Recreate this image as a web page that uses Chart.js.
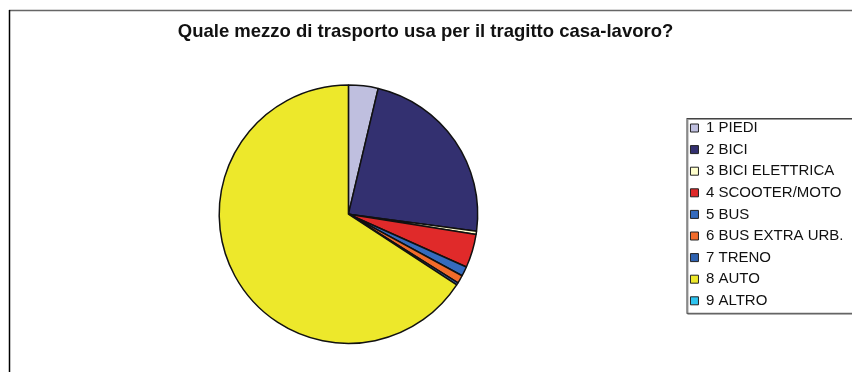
<!DOCTYPE html>
<html>
<head>
<meta charset="utf-8">
<script src="https://cdn.jsdelivr.net/npm/chart.js@4.4.1/dist/chart.umd.min.js"></script>
<style>
  html, body { margin: 0; padding: 0; background: #fff; overflow: hidden; }
  #wrap { position: relative; width: 852px; height: 372px; }
</style>
</head>
<body>
<div id="wrap"><canvas id="chart_mezzo"></canvas></div>
<script>
// percentuali
var categorie = ['1 PIEDI', '2 BICI', '3 BICI ELETTRICA', '4 SCOOTER/MOTO', '5 BUS',
                 '6 BUS EXTRA URB.', '7 TRENO', '8 AUTO', '9 ALTRO'];
var percentuali = [3.7, 23.4, 0.4, 4.2, 1.2, 1.0, 0.3, 65.8, 0];
var colori = ['#bfbfdf', '#333070', '#ffffcc', '#e02a2a', '#356bbe',
              '#f26b2a', '#2f62b0', '#ede82b', '#2ec4f0'];
// spazi finali: il titolo resta centrato sulla larghezza del grafico originale
var titolo = 'Quale mezzo di trasporto usa per il tragitto casa-lavoro?\u00a0\u00a0\u00a0';

// cornice del grafico e riquadro della legenda
var cornice = {
    id: 'cornice',
    beforeDraw: function (chart) {
        var ctx = chart.ctx;
        ctx.save();
        ctx.lineWidth = 1.5;
        ctx.strokeStyle = '#666';
        ctx.beginPath();
        ctx.moveTo(9, 10.5);
        ctx.lineTo(chart.width + 5, 10.5);
        ctx.stroke();
        ctx.strokeStyle = '#000';
        ctx.beginPath();
        ctx.moveTo(9.5, 10);
        ctx.lineTo(9.5, chart.height + 5);
        ctx.stroke();
        ctx.restore();
    },
    afterDraw: function (chart) {
        var lg = chart.legend;
        if (!lg || !lg.legendHitBoxes.length) return;
        var boxes = lg.legendHitBoxes;
        var first = boxes[0], last = boxes[boxes.length - 1];
        var x = first.left - 4, y = first.top - 2.5;
        var b = last.top + last.height + 4.5;
        var ctx = chart.ctx;
        ctx.save();
        ctx.lineWidth = 1;
        ctx.strokeStyle = '#999';
        ctx.strokeRect(x + 1.5, y + 1.5, chart.width, b - y);
        ctx.strokeStyle = '#444';
        ctx.strokeRect(x + 0.5, y + 0.5, chart.width, b - y);
        ctx.restore();
    }
};

var ctx = document.getElementById('chart_mezzo').getContext('2d');
var chart = new Chart(ctx, {
    type: 'pie',
    data: {
        labels: categorie,
        datasets: [{
            data: percentuali,
            backgroundColor: colori,
            borderColor: '#111',
            borderWidth: 1.5
        }]
    },
    options: {
        responsive: true,
        maintainAspectRatio: false,
        devicePixelRatio: 1,
        animation: false,
        layout: {
            padding: { left: 13, right: -1.5, top: 0, bottom: 27.8 }
        },
        plugins: {
            title: {
                display: true,
                text: titolo,
                color: '#111',
                font: { family: 'Liberation Sans', size: 18.5, weight: 'bold' },
                padding: { top: 20.9, bottom: 41.1 }
            },
            legend: {
                position: 'right',
                align: 'start',
                title: {
                    display: true,
                    text: ' ',
                    font: { size: 1 },
                    padding: { top: 112.7, bottom: 0 }
                },
                labels: {
                    color: '#111',
                    boxWidth: 8,
                    boxHeight: 8,
                    padding: 6.6,
                    font: { family: 'Liberation Sans', size: 15 },
                    generateLabels: function (c) {
                        var items = Chart.overrides.pie.plugins.legend.labels.generateLabels(c);
                        items.forEach(function (it) { it.lineWidth = 1; it.strokeStyle = '#222'; });
                        return items;
                    }
                }
            },
            tooltip: { enabled: false }
        }
    },
    plugins: [cornice]
});
</script>
</body>
</html>
